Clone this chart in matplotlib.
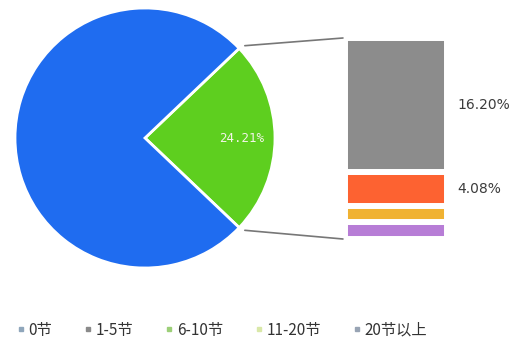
import matplotlib.pyplot as plt
from matplotlib.patches import ConnectionPatch
from matplotlib.lines import Line2D
import numpy as np

plt.rcParams['font.family'] = ['Noto Sans CJK SC', 'DejaVu Sans']

# 饼图：0节 vs 其他
pie_labels = ['其他', '0节']
pie_values = [24.21, 75.79]
pie_colors = ['#5ecf1f', '#1f6cf0']

# 右侧堆叠条（自下而上）
bar_labels = ['20节以上', '11-20节', '6-10节', '1-5节']
bar_values = [2.00, 1.93, 4.08, 16.20]
bar_colors = ['#b77dd6', '#f0b232', '#fd6231', '#8c8c8c']
bar_texts = ['', '', '4.08%', '16.20%']

legend_labels = ['0节', '1-5节', '6-10节', '11-20节', '20节以上']
legend_colors = ['#8fa6bb', '#8a8a8a', '#9ccf78', '#d9e8a8', '#98a4b4']

W, H = 516, 349
fig = plt.figure(figsize=(W / 100, H / 100), dpi=100)

# pie axes
ax1 = fig.add_axes([15 / W, 1 - 268 / H, 260 / W, 260 / H])
half = pie_values[0] / 100 * 360 / 2
wedges, _ = ax1.pie(pie_values, colors=pie_colors, startangle=-half,
                    counterclock=True, radius=1,
                    wedgeprops=dict(edgecolor='white', linewidth=2))
ax1.text(0.74, 0, '24.21%', color='#f4f4e8', fontsize=9, ha='center',
         va='center', family='DejaVu Sans Mono')
ax1.set_xlim(-1, 1)
ax1.set_ylim(-1, 1)
ax1.set_aspect('equal')
ax1.axis('off')

# bar axes
ax2 = fig.add_axes([345 / W, 1 - 239 / H, 102 / W, 201 / H])
total = sum(bar_values)
bottom = 0
for v, c, t in zip(bar_values, bar_colors, bar_texts):
    ax2.bar(0, v, width=1, bottom=bottom, color=c, edgecolor='white',
            linewidth=4.3)
    if t:
        ax2.text(0.6, bottom + v / 2, t, fontsize=10, color='#3c3c3c',
                 ha='left', va='center', family='DejaVu Sans')
    bottom += v
ax2.set_xlim(-0.5, 0.5)
ax2.set_ylim(0, total)
ax2.axis('off')

# connecting lines
theta = np.deg2rad(half)
x0, y0 = np.cos(theta), np.sin(theta)
for yp, yb in [(y0, total), (-y0, 0)]:
    con = ConnectionPatch(xyA=(x0 * 1.06, yp * 1.03), coordsA=ax1.transData,
                          xyB=(-0.52, yb), coordsB=ax2.transData,
                          color='#777777', linewidth=1.2)
    fig.add_artist(con)

handles = [Line2D([], [], marker='s', markersize=3, linestyle='none',
                  color=c) for c in legend_colors]
fig.legend(handles, legend_labels, loc='center', ncol=5,
           bbox_to_anchor=(0.429, 1 - 330 / H), frameon=False, fontsize=11,
           handletextpad=0.15, columnspacing=2.0, handlelength=0.7,
           labelcolor='#333333')

fig.savefig('out.png', dpi=100, facecolor='white')
